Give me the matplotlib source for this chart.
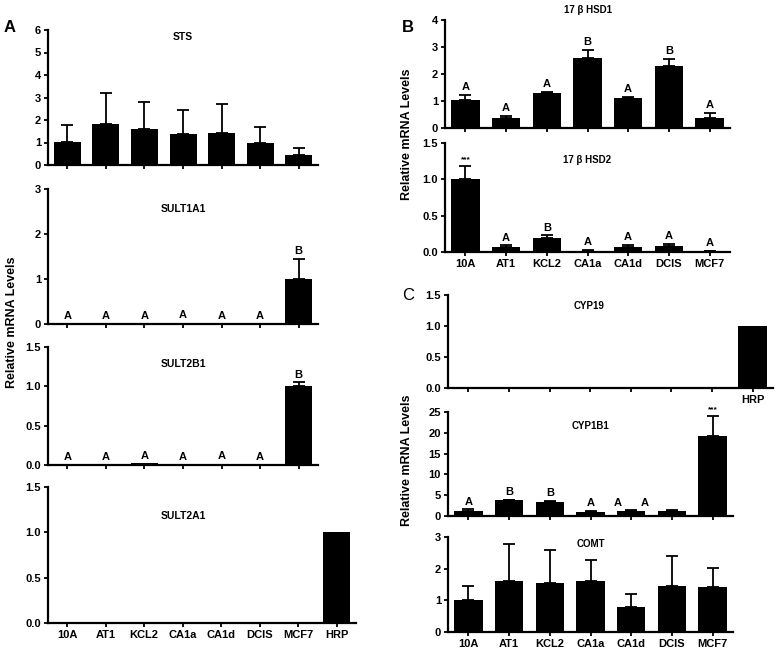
import matplotlib
matplotlib.use("Agg")
import matplotlib.pyplot as plt
import numpy as np

plt.rcParams['font.family'] = ['Liberation Sans', 'DejaVu Sans']
plt.rcParams['font.weight'] = 'bold'

W, H = 779, 655

cells7 = ['10A', 'AT1', 'KCL2', 'CA1a', 'CA1d', 'DCIS', 'MCF7']
cells8 = cells7 + ['HRP']

sts_mean = [1.03, 1.84, 1.61, 1.37, 1.43, 0.97, 0.46]
sts_err = [0.77, 1.36, 1.19, 1.09, 1.27, 0.74, 0.31]

sult1a1_mean = [0.005, 0.01, 0.005, 0.03, 0.01, 0.01, 1.0]
sult1a1_err = [0, 0, 0, 0, 0, 0, 0.45]
sult1a1_sig = ['A', 'A', 'A', 'A', 'A', 'A', 'B']

sult2b1_mean = [0.005, 0.005, 0.02, 0.005, 0.01, 0.005, 1.0]
sult2b1_err = [0, 0, 0, 0, 0, 0, 0.05]
sult2b1_sig = ['A', 'A', 'A', 'A', 'A', 'A', 'B']

sult2a1_mean = [0.003, 0.003, 0.003, 0.003, 0.003, 0.003, 0.003, 1.0]

hsd1_mean = [1.03, 0.36, 1.30, 2.58, 1.11, 2.28, 0.38]
hsd1_err = [0.21, 0.09, 0.05, 0.31, 0.05, 0.27, 0.18]
hsd1_sig = ['A', 'A', 'A', 'B', 'A', 'B', 'A']

hsd2_mean = [1.01, 0.074, 0.19, 0.02, 0.065, 0.088, 0.015]
hsd2_err = [0.17, 0.016, 0.04, 0.005, 0.035, 0.022, 0.005]
hsd2_sig = ['***', 'A', 'B', 'A', 'A', 'A', 'A']

cyp19_mean = [0.003, 0.003, 0.003, 0.003, 0.003, 0.003, 0.003, 1.0]

cyp1b1_mean = [1.2, 3.8, 3.3, 0.97, 1.13, 1.2, 19.3]
cyp1b1_err = [0.4, 0.15, 0.25, 0.23, 0.24, 0.3, 4.7]
cyp1b1_sig = ['A', 'B', 'B', 'A', '', '', '***']
cyp1b1_extra_sig = [(3.68, 'A'), (4.32, 'A')]

comt_mean = [1.01, 1.60, 1.54, 1.62, 0.80, 1.46, 1.43]
comt_err = [0.44, 1.18, 1.06, 0.66, 0.39, 0.93, 0.59]

fig = plt.figure(figsize=(W / 100, H / 100), dpi=100)

TICK_FS = 8
TITLE_FS = 7.5
SIG_FS = 8


def rect(l, t, r, b):
    return [l / W, 1 - b / H, (r - l) / W, (b - t) / H]


def panel(box, mean, err, labels, ymax, yticks, fmt, title=None, title_y=0.9,
          title_x=0.5, sig=None, width=0.7, title_fs=TITLE_FS):
    ax = fig.add_axes(rect(*box))
    x = np.arange(len(mean))
    ax.bar(x, mean, width=width, color='black', zorder=2)
    if err is not None:
        e = np.array(err)
        m = np.array(mean)
        mask = e > 0
        ax.errorbar(x[mask], m[mask], yerr=[np.zeros(mask.sum()), e[mask]],
                    fmt='none', ecolor='black', elinewidth=1.3, capsize=4.5,
                    capthick=1.3, zorder=3)
    ax.set_xlim(-0.5, len(mean) - 0.5)
    ax.set_ylim(0, ymax)
    ax.set_yticks(yticks)
    ax.set_yticklabels([fmt.format(v) for v in yticks])
    ax.set_xticks(x)
    ax.set_xticklabels(labels)
    for s in ['top', 'right']:
        ax.spines[s].set_visible(False)
    for s in ['left', 'bottom']:
        ax.spines[s].set_linewidth(1.6)
    ax.tick_params(axis='both', direction='out', length=3, width=1.3,
                   labelsize=TICK_FS, pad=2)
    for t in ax.get_xticklabels() + ax.get_yticklabels():
        t.set_fontweight('bold')
    if title:
        ax.text(title_x, title_y, title, transform=ax.transAxes, ha='center',
                va='center', fontsize=title_fs, fontweight='bold')
    if sig is not None:
        tops = np.array(mean) + (np.array(err) if err is not None else 0)
        for xi, (tp, s) in enumerate(zip(tops, sig)):
            if s:
                fs = 6 if s == '***' else SIG_FS
                ax.annotate(s, (xi, tp), xytext=(0, 2), textcoords='offset points',
                            ha='center', va='bottom', fontsize=fs,
                            fontweight='bold')
    return ax


# Panel A
panel((48, 30, 318, 165), sts_mean, sts_err, [''] * 7, 6, range(0, 7), '{:d}',
      title='STS', title_y=0.95)
panel((48, 189, 318, 324), sult1a1_mean, sult1a1_err, [''] * 7, 3, range(0, 4),
      '{:d}', title='SULT1A1', title_y=0.85, sig=sult1a1_sig)
panel((48, 347, 318, 465), sult2b1_mean, sult2b1_err, [''] * 7, 1.5,
      [0, 0.5, 1.0, 1.5], '{:.1f}', title='SULT2B1', title_y=0.86, sig=sult2b1_sig)
panel((48, 487, 356, 623), sult2a1_mean, None, cells8, 1.5, [0, 0.5, 1.0, 1.5],
      '{:.1f}', title='SULT2A1', title_y=0.79, title_x=0.44)

# Panel B
panel((445, 20, 730, 128), hsd1_mean, hsd1_err, [''] * 7, 4, range(0, 5), '{:d}',
      title='17 β HSD1', title_y=1.09, sig=hsd1_sig, title_fs=7)
panel((445, 143, 730, 252), hsd2_mean, hsd2_err, cells7, 1.5,
      [0, 0.5, 1.0, 1.5], '{:.1f}', title='17 β HSD2', title_y=0.84, sig=hsd2_sig,
      title_fs=7)

# Panel C
panel((448, 295, 773, 388), cyp19_mean, None, [''] * 7 + ['HRP'], 1.5,
      [0, 0.5, 1.0, 1.5], '{:.1f}', title='CYP19', title_y=0.88, title_x=0.435,
      title_fs=7)
ax_c2 = panel((448, 412, 733, 516), cyp1b1_mean, cyp1b1_err, [''] * 7, 25,
              range(0, 30, 5), '{:d}', title='CYP1B1', title_y=0.87,
              sig=cyp1b1_sig, title_fs=7)
for xp, s in cyp1b1_extra_sig:
    ax_c2.annotate(s, (xp, cyp1b1_mean[4] + cyp1b1_err[4]), xytext=(0, 2),
                   textcoords='offset points', ha='center', va='bottom',
                   fontsize=SIG_FS, fontweight='bold')
panel((448, 537, 733, 632), comt_mean, comt_err, cells7, 3, range(0, 4), '{:d}',
      title='COMT', title_y=0.93, title_fs=7)

# y labels and panel letters
fig.text(12 / W, 1 - 322 / H, 'Relative mRNA Levels', rotation=90, ha='center',
         va='center', fontsize=9, fontweight='bold')
fig.text(407 / W, 1 - 134 / H, 'Relative mRNA Levels', rotation=90, ha='center',
         va='center', fontsize=9, fontweight='bold')
fig.text(407 / W, 1 - 460 / H, 'Relative mRNA Levels', rotation=90, ha='center',
         va='center', fontsize=9, fontweight='bold')
fig.text(10 / W, 1 - 28 / H, 'A', ha='center', va='center', fontsize=12,
         fontweight='bold')
fig.text(408 / W, 1 - 27 / H, 'B', ha='center', va='center', fontsize=12,
         fontweight='bold')
fig.text(408 / W, 1 - 296 / H, 'C', ha='center', va='center', fontsize=12,
         fontweight='normal')

fig.savefig('out.png', dpi=100)
